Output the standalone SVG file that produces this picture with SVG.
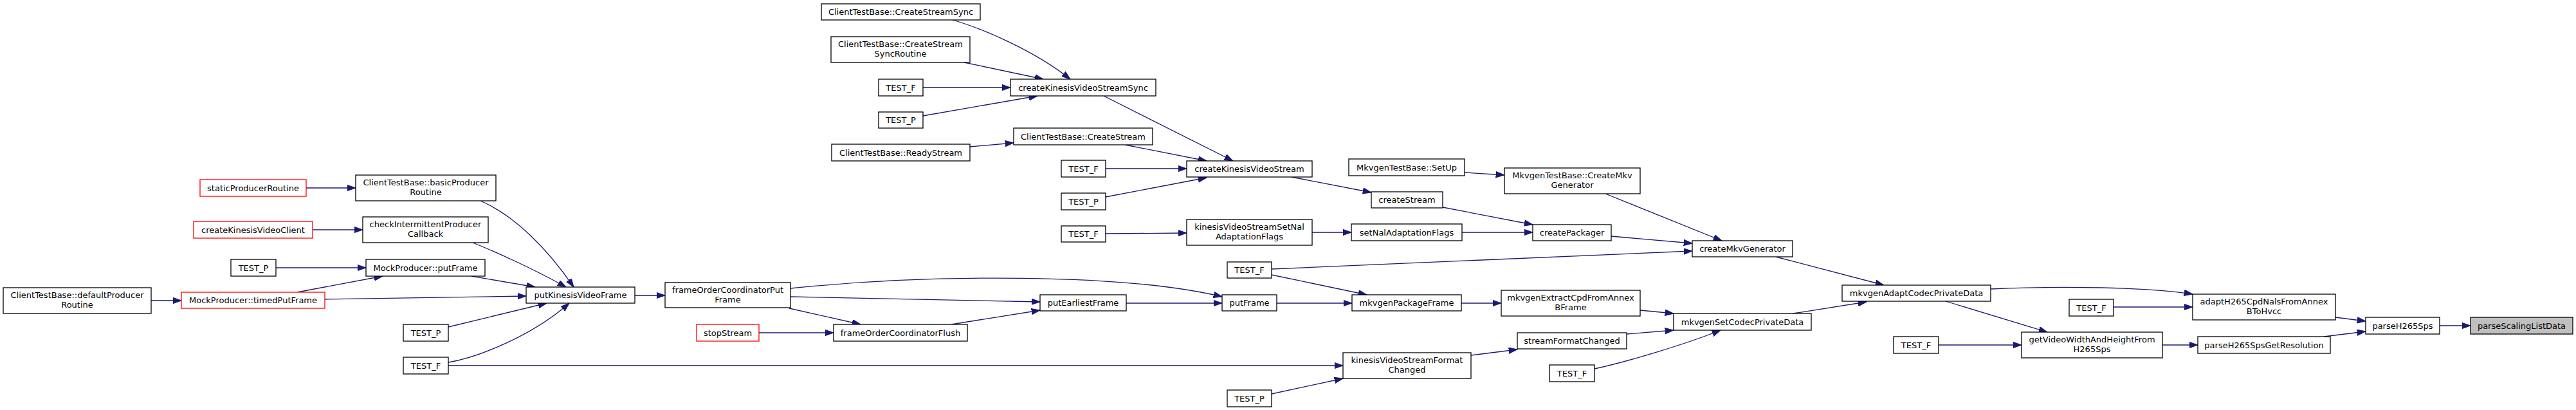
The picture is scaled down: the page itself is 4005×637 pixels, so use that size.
<svg xmlns="http://www.w3.org/2000/svg" width="4005" height="637" viewBox="0 0 4005 637">
<style>
.node rect{fill:#ffffff;stroke:#000000;stroke-width:1.3}
.node.red rect{stroke:#ff0000}
.node.root rect{fill:#bfbfbf}
.node text{font-family:"DejaVu Sans","Liberation Sans",sans-serif;font-size:13px;fill:#000000;text-anchor:middle}
.edges path{fill:none;stroke:#191970;stroke-width:1.3;marker-end:url(#arr)}
</style>
<defs>
<marker id="arr" markerUnits="userSpaceOnUse" markerWidth="15" markerHeight="11" refX="13.3" refY="4.7" orient="auto">
<path d="M0,0 L13.3,4.7 L0,9.4 z" fill="#191970" stroke="#191970" stroke-width="1"/>
</marker>
</defs>
<rect x="0" y="0" width="4005" height="637" fill="#ffffff"/>
<g class="edges" id="edges">
<path d="M476,292 L553,292"/>
<path d="M486,357 L564,357"/>
<path d="M429,416 L569,416"/>
<path d="M235,467 L282,467"/>
<path d="M462,454 L595,429"/>
<path d="M505,465 L818,460"/>
<path d="M747,312 C800,335 850,385 892,446"/>
<path d="M735,377 C770,391 830,418 880,446"/>
<path d="M733,429 L832,446"/>
<path d="M697,508 L850,471"/>
<path d="M697,563 C745,555 830,520 885,471"/>
<path d="M697,568 L2088,568"/>
<path d="M987,459 L1034,459"/>
<path d="M1180,517 L1296,517"/>
<path d="M1229,448 C1450,425 1750,425 1900,461"/>
<path d="M1229,461 L1617,469"/>
<path d="M1227,479 L1338,504"/>
<path d="M1479,504 L1617,482"/>
<path d="M1751,471 L1900,471"/>
<path d="M1481,31 C1530,45 1610,80 1664,123"/>
<path d="M1499,97 L1622,123"/>
<path d="M1435,136 L1571,136"/>
<path d="M1435,180 L1613,149"/>
<path d="M1508,228 L1576,222"/>
<path d="M1716,149 L1917,250"/>
<path d="M1749,225 L1876,250"/>
<path d="M1719,262 L1845,262"/>
<path d="M1719,306 L1876,276"/>
<path d="M1719,363 L1845,362"/>
<path d="M2008,275 L2132,299"/>
<path d="M2277,268 L2339,272"/>
<path d="M2243,322 L2383,349"/>
<path d="M2040,361 L2101,361"/>
<path d="M2273,361 L2383,361"/>
<path d="M2496,301 L2677,374"/>
<path d="M2505,367 L2631,378"/>
<path d="M1977,418 L2631,390"/>
<path d="M1977,427 L2125,458"/>
<path d="M1985,471 L2102,471"/>
<path d="M2272,471 L2334,471"/>
<path d="M2287,552 L2359,543"/>
<path d="M1977,612 L2088,588"/>
<path d="M2550,482 L2602,487"/>
<path d="M2529,519 L2602,513"/>
<path d="M2479,573 C2530,562 2620,535 2675,513"/>
<path d="M2761,399 L2929,443"/>
<path d="M2788,487 L2902,469"/>
<path d="M3095,449 C3200,444 3340,446 3409,457"/>
<path d="M3025,468 L3183,516"/>
<path d="M3014,536 L3143,536"/>
<path d="M3286,477 L3409,477"/>
<path d="M3362,536 L3417,536"/>
<path d="M3631,493 L3678,499"/>
<path d="M3613,523 L3678,515"/>
<path d="M3793,506 L3841,506"/>
</g>
<g id="n1" class="node root"><rect x="3841" y="493" width="159" height="26"/><text x="3920.5" y="510.5">parseScalingListData</text></g>
<g id="n2" class="node"><rect x="3678" y="493" width="115" height="26"/><text x="3735.5" y="510.5">parseH265Sps</text></g>
<g id="n3" class="node"><rect x="3409" y="457" width="222" height="40"/><text x="3520" y="473">adaptH265CpdNalsFromAnnex</text><text x="3520" y="488">BToHvcc</text></g>
<g id="n4" class="node"><rect x="3417" y="523" width="206" height="26"/><text x="3520" y="540.5">parseH265SpsGetResolution</text></g>
<g id="n5" class="node"><rect x="3217" y="465" width="69" height="26"/><text x="3251.5" y="482.5">TEST_F</text></g>
<g id="n6" class="node"><rect x="3143" y="516" width="219" height="40"/><text x="3252.5" y="532">getVideoWidthAndHeightFrom</text><text x="3252.5" y="547">H265Sps</text></g>
<g id="n7" class="node"><rect x="2864" y="443" width="231" height="25"/><text x="2979.5" y="460">mkvgenAdaptCodecPrivateData</text></g>
<g id="n8" class="node"><rect x="2944" y="523" width="70" height="26"/><text x="2979" y="540.5">TEST_F</text></g>
<g id="n9" class="node"><rect x="2631" y="374" width="156" height="25"/><text x="2709" y="391">createMkvGenerator</text></g>
<g id="n10" class="node"><rect x="2602" y="487" width="214" height="26"/><text x="2709" y="504.5">mkvgenSetCodecPrivateData</text></g>
<g id="n11" class="node"><rect x="2339" y="261" width="211" height="40"/><text x="2444.5" y="277">MkvgenTestBase::CreateMkv</text><text x="2444.5" y="292">Generator</text></g>
<g id="n12" class="node"><rect x="2383" y="349" width="122" height="25"/><text x="2444" y="366">createPackager</text></g>
<g id="n13" class="node"><rect x="1908" y="407" width="69" height="25"/><text x="1942.5" y="424">TEST_F</text></g>
<g id="n14" class="node"><rect x="2334" y="451" width="216" height="40"/><text x="2442" y="467">mkvgenExtractCpdFromAnnex</text><text x="2442" y="482">BFrame</text></g>
<g id="n15" class="node"><rect x="2359" y="517" width="170" height="25"/><text x="2444" y="534">streamFormatChanged</text></g>
<g id="n16" class="node"><rect x="2409" y="567" width="70" height="26"/><text x="2444" y="584.5">TEST_F</text></g>
<g id="n17" class="node"><rect x="2097" y="247" width="180" height="26"/><text x="2187" y="264.5">MkvgenTestBase::SetUp</text></g>
<g id="n18" class="node"><rect x="2132" y="298" width="111" height="25"/><text x="2187.5" y="315">createStream</text></g>
<g id="n19" class="node"><rect x="2101" y="348" width="172" height="26"/><text x="2187" y="365.5">setNalAdaptationFlags</text></g>
<g id="n20" class="node"><rect x="2102" y="458" width="170" height="25"/><text x="2187" y="475">mkvgenPackageFrame</text></g>
<g id="n21" class="node"><rect x="2088" y="548" width="199" height="40"/><text x="2187.5" y="564">kinesisVideoStreamFormat</text><text x="2187.5" y="579">Changed</text></g>
<g id="n22" class="node"><rect x="1845" y="250" width="195" height="25"/><text x="1942.5" y="267">createKinesisVideoStream</text></g>
<g id="n23" class="node"><rect x="1845" y="341" width="195" height="40"/><text x="1942.5" y="357">kinesisVideoStreamSetNal</text><text x="1942.5" y="372">AdaptationFlags</text></g>
<g id="n24" class="node"><rect x="1900" y="458" width="85" height="25"/><text x="1942.5" y="475">putFrame</text></g>
<g id="n25" class="node"><rect x="1908" y="606" width="69" height="26"/><text x="1942.5" y="623.5">TEST_P</text></g>
<g id="n26" class="node"><rect x="1571" y="123" width="226" height="26"/><text x="1684" y="140.5">createKinesisVideoStreamSync</text></g>
<g id="n27" class="node"><rect x="1576" y="199" width="216" height="26"/><text x="1684" y="216.5">ClientTestBase::CreateStream</text></g>
<g id="n28" class="node"><rect x="1650" y="249" width="69" height="26"/><text x="1684.5" y="266.5">TEST_F</text></g>
<g id="n29" class="node"><rect x="1650" y="300" width="69" height="26"/><text x="1684.5" y="317.5">TEST_P</text></g>
<g id="n30" class="node"><rect x="1650" y="351" width="69" height="25"/><text x="1684.5" y="368">TEST_F</text></g>
<g id="n31" class="node"><rect x="1617" y="458" width="134" height="25"/><text x="1684" y="475">putEarliestFrame</text></g>
<g id="n32" class="node"><rect x="1277" y="6" width="247" height="25"/><text x="1400.5" y="23">ClientTestBase::CreateStreamSync</text></g>
<g id="n33" class="node"><rect x="1292" y="57" width="216" height="40"/><text x="1400" y="73">ClientTestBase::CreateStream</text><text x="1400" y="88">SyncRoutine</text></g>
<g id="n34" class="node"><rect x="1366" y="123" width="69" height="26"/><text x="1400.5" y="140.5">TEST_F</text></g>
<g id="n35" class="node"><rect x="1366" y="174" width="69" height="25"/><text x="1400.5" y="191">TEST_P</text></g>
<g id="n36" class="node"><rect x="1293" y="224" width="215" height="26"/><text x="1400.5" y="241.5">ClientTestBase::ReadyStream</text></g>
<g id="n37" class="node"><rect x="1034" y="439" width="195" height="39"/><text x="1131.5" y="455">frameOrderCoordinatorPut</text><text x="1131.5" y="470">Frame</text></g>
<g id="n38" class="node"><rect x="1296" y="504" width="208" height="26"/><text x="1400" y="521.5">frameOrderCoordinatorFlush</text></g>
<g id="n39" class="node red"><rect x="1083" y="504" width="97" height="26"/><text x="1131.5" y="521.5">stopStream</text></g>
<g id="n40" class="node"><rect x="818" y="446" width="169" height="25"/><text x="902.5" y="463">putKinesisVideoFrame</text></g>
<g id="n41" class="node"><rect x="553" y="272" width="218" height="40"/><text x="662" y="288">ClientTestBase::basicProducer</text><text x="662" y="303">Routine</text></g>
<g id="n42" class="node"><rect x="564" y="337" width="195" height="40"/><text x="661.5" y="353">checkIntermittentProducer</text><text x="661.5" y="368">Callback</text></g>
<g id="n43" class="node"><rect x="569" y="403" width="185" height="26"/><text x="661.5" y="420.5">MockProducer::putFrame</text></g>
<g id="n44" class="node"><rect x="627" y="504" width="70" height="26"/><text x="662" y="521.5">TEST_P</text></g>
<g id="n45" class="node"><rect x="627" y="555" width="70" height="26"/><text x="662" y="572.5">TEST_F</text></g>
<g id="n46" class="node red"><rect x="311" y="279" width="165" height="26"/><text x="393.5" y="296.5">staticProducerRoutine</text></g>
<g id="n47" class="node red"><rect x="301" y="344" width="185" height="26"/><text x="393.5" y="361.5">createKinesisVideoClient</text></g>
<g id="n48" class="node"><rect x="359" y="403" width="70" height="26"/><text x="394" y="420.5">TEST_P</text></g>
<g id="n49" class="node red"><rect x="282" y="454" width="223" height="25"/><text x="393.5" y="471">MockProducer::timedPutFrame</text></g>
<g id="n50" class="node"><rect x="5" y="447" width="230" height="40"/><text x="120" y="463">ClientTestBase::defaultProducer</text><text x="120" y="478">Routine</text></g>
</svg>
